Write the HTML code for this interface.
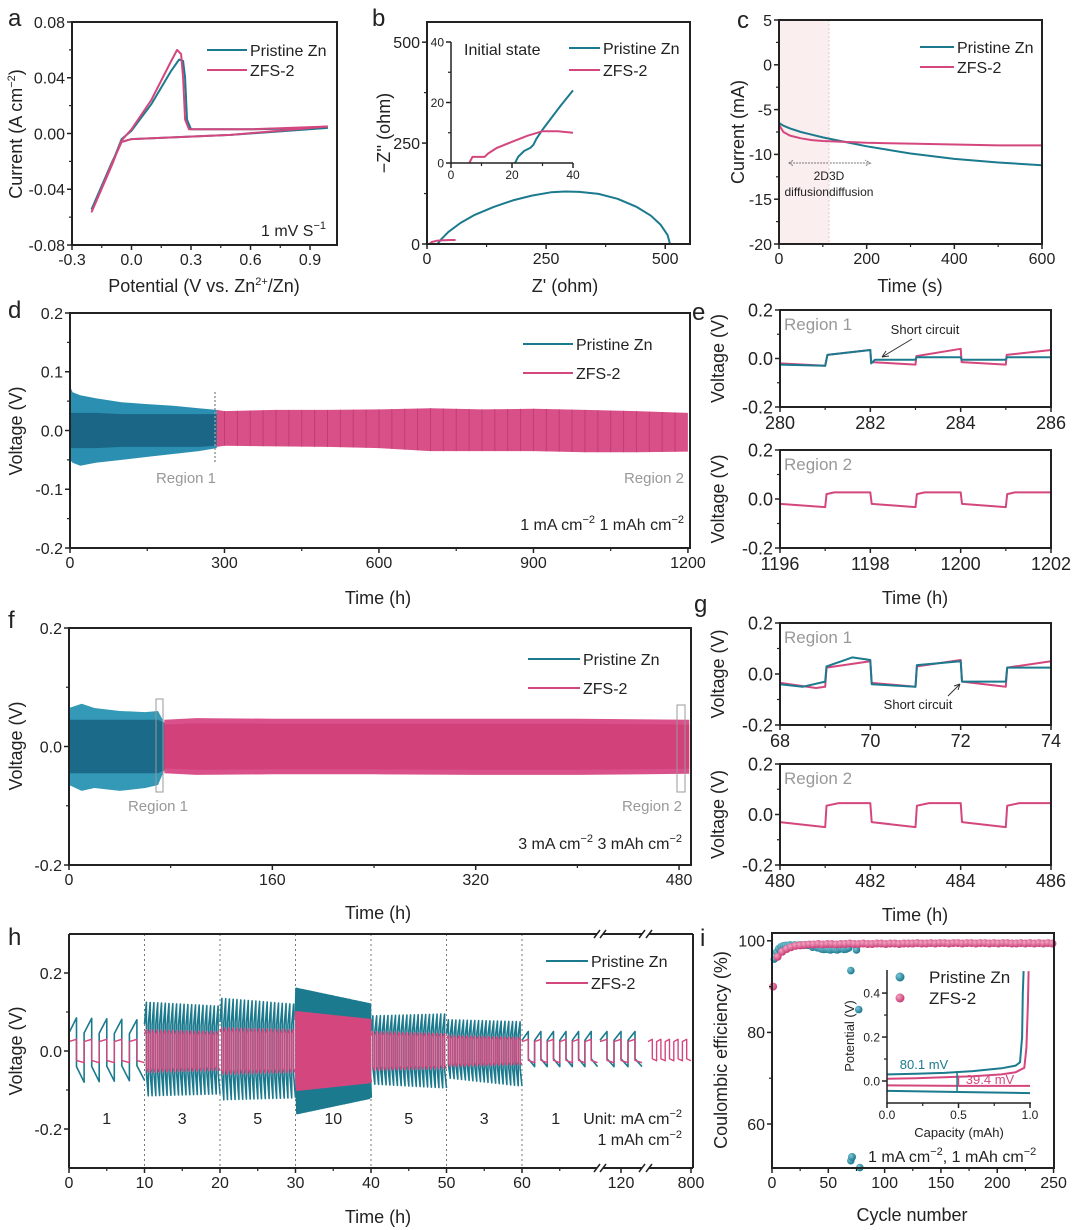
<!DOCTYPE html>
<html><head><meta charset="utf-8"><style>
html,body{margin:0;padding:0;background:#fff;}
svg{display:block;font-family:"Liberation Sans",Arial,sans-serif;}
</style></head><body>
<svg id="fig" width="1080" height="1230" viewBox="0 0 1080 1230" xmlns="http://www.w3.org/2000/svg"></svg>
<script>
// ---------- data ----------
const cvPriV=[0.99,0.5,0.0,-0.05,-0.1,-0.2,-0.1,-0.05,0,0.1,0.2,0.24,0.26,0.27,0.28,0.3,0.6,0.99];
const cvPriI=[0.004,-0.001,-0.004,-0.006,-0.021,-0.054,-0.022,-0.004,0.002,0.021,0.045,0.053,0.052,0.04,0.01,0.003,0.003,0.004];
const cvZfsV=[0.99,0.5,0.0,-0.05,-0.1,-0.2,-0.1,-0.05,0,0.1,0.2,0.23,0.25,0.26,0.27,0.29,0.6,0.99];
const cvZfsI=[0.005,-0.001,-0.004,-0.006,-0.022,-0.056,-0.023,-0.005,0.003,0.024,0.052,0.06,0.057,0.04,0.01,0.003,0.003,0.005];
const eisPriX=[22,30,45,70,100,140,180,220,260,290,320,360,400,440,470,490,505,510];
const eisPriY=[0,12,30,52,72,92,108,120,128,130,129,124,112,92,70,48,22,0];
const eisZfsX=[5,10,20,30,50,60];
const eisZfsY=[0,5,8,9,10,10];
const insPriX=[21,22,24,26,27,28,30,33,36,40];
const insPriY=[0,2,4,5,6,8,11,15,19,24];
const insZfsX=[6,7,9,11,12,15,20,25,30,35,40];
const insZfsY=[0,2,2,2,3,5,7,9,10.5,10.5,10];
const caT=[0,10,25,50,75,100,150,200,250,300,400,500,600];
const caPri=[-6.5,-6.8,-7.1,-7.5,-7.8,-8.1,-8.6,-9.1,-9.5,-9.9,-10.5,-10.9,-11.2];
const caZfs=[-6.7,-7.5,-7.9,-8.2,-8.4,-8.5,-8.6,-8.7,-8.75,-8.8,-8.9,-9.0,-9.0];
const dPriT=[0,5,20,50,100,150,200,250,285];
const dPriUp=[0.075,0.065,0.06,0.055,0.048,0.045,0.042,0.038,0.035];
const dPriLo=[-0.05,-0.055,-0.06,-0.055,-0.05,-0.045,-0.04,-0.035,-0.03];
const dPriInUp=[0.03,0.03,0.03,0.03,0.028,0.028,0.028,0.028,0.028];
const dPriInLo=[-0.03,-0.03,-0.03,-0.03,-0.028,-0.028,-0.028,-0.028,-0.026];
const dZfsT=[285,300,400,500,600,700,800,900,1000,1100,1200];
const dZfsUp=[0.035,0.033,0.035,0.035,0.036,0.038,0.036,0.037,0.035,0.033,0.03];
const dZfsLo=[-0.028,-0.026,-0.027,-0.028,-0.03,-0.035,-0.035,-0.035,-0.037,-0.037,-0.036];
const e1T=[280,281,281.05,282,282.02,282.1,283,283.02,284,284.02,285,285.02,286];
const e1Pri=[-0.025,-0.03,0.015,0.035,-0.02,-0.005,-0.005,0.005,0.005,-0.005,-0.005,0.005,0.005];
const e1ZT=[280,281,281.05,282,282.02,283,283.02,284,284.02,285,285.02,286];
const e1Zfs=[-0.02,-0.03,0.015,0.035,-0.015,-0.025,0.01,0.04,-0.015,-0.025,0.015,0.035];
const e2T=[1196,1197,1197.03,1197.2,1198,1198.03,1199,1199.03,1199.2,1200,1200.03,1201,1201.03,1201.2,1202];
const e2Zfs=[-0.02,-0.033,0.02,0.027,0.027,-0.02,-0.033,0.02,0.027,0.027,-0.02,-0.033,0.02,0.027,0.027];
const fPriT=[0,10,20,40,60,70,75,83];
const fPriUp=[0.065,0.072,0.065,0.06,0.058,0.06,0.04,0.02];
const fPriLo=[-0.065,-0.075,-0.07,-0.075,-0.07,-0.065,-0.04,-0.02];
const fZfsT=[75,100,160,240,320,400,488];
const fZfsUp=[0.045,0.048,0.047,0.047,0.047,0.047,0.045];
const fZfsLo=[-0.045,-0.048,-0.047,-0.047,-0.048,-0.048,-0.046];
const g1T=[68,68.5,69,69.03,69.6,70,70.03,71,71.03,72,72.03,73,73.03,74];
const g1Pri=[-0.04,-0.05,-0.03,0.03,0.065,0.055,-0.04,-0.05,0.035,0.05,-0.03,-0.03,0.025,0.025];
const g1ZT=[68,68.8,69,69.03,70,70.03,71,71.03,72,72.03,73,73.03,74];
const g1Zfs=[-0.035,-0.055,-0.05,0.025,0.05,-0.035,-0.05,0.03,0.055,-0.03,-0.05,0.025,0.05];
const g2T=[480,481,481.03,481.3,482,482.03,483,483.03,483.3,484,484.03,485,485.03,485.3,486];
const g2Zfs=[-0.03,-0.05,0.035,0.045,0.045,-0.03,-0.05,0.035,0.045,0.045,-0.03,-0.05,0.035,0.045,0.045];
const hSegStart=[0,10,20,30,40,50,60,115,790];
const hSegEnd=[10,20,30,40,50,60,70,125,800];
const hCycles=[5,20,20,45,20,20,6,3,5];
const hPriUpStart=[0.085,0.125,0.135,0.16,0.09,0.08,0.05,0.05,null];
const hPriUpEnd=[0.08,0.115,0.12,0.12,0.095,0.075,0.05,0.05,null];
const hPriLoStart=[-0.08,-0.115,-0.125,-0.16,-0.085,-0.07,-0.04,-0.04,null];
const hPriLoEnd=[-0.075,-0.11,-0.12,-0.12,-0.095,-0.09,-0.04,-0.04,null];
const hZfsUp=[0.03,0.055,0.06,0.1,0.05,0.04,0.03,0.03,0.03];
const hZfsUpEnd=[0.03,0.05,0.055,0.08,0.045,0.035,0.03,0.03,0.03];
const hZfsLo=[-0.03,-0.055,-0.06,-0.1,-0.05,-0.04,-0.03,-0.03,-0.025];
const hZfsLoEnd=[-0.03,-0.05,-0.055,-0.08,-0.045,-0.035,-0.03,-0.03,-0.025];
const hRateLabels=["1","3","5","10","5","3","1"];
const iZfsCE=[90,96.5,97.6,98.2,98.6,98.9,99.0,99.1,99.2,99.2,99.3,99.2,99.3,99.3,99.2,99.3,99.3,99.4,99.3,99.3,99.4,99.3,99.3,99.4,99.4,99.3,99.4,99.4,99.3,99.4,99.4,99.4,99.5,99.4,99.4,99.5,99.4,99.5,99.5,99.4,99.5,99.5,99.4,99.5,99.5,99.4,99.5,99.5,99.4,99.5,99.4,99.5,99.5,99.4,99.4,99.5,99.4,99.5,99.4,99.5,99.4,99.5,99.4];
const iPriCycle=[2,4,6,8,10,12,14,16,18,20,22,24,26,28,30,32,34,36,38,40,42,44,46,48,50,52,54,56,58,60,62,64,66,68,75,70,77,70,78];
const iPriCE=[96,97.5,98.3,98.7,98.9,99,99,99.1,99,99.1,99,99.1,99.1,99,99.1,99,99,98.6,98.7,98.5,98.4,98.2,98.1,98.2,98.1,98,98.2,98.1,98,98.2,98.3,98.1,98.2,98.4,98,93.5,85,52,50.5];
const inCapPriUp=[0,0.2,0.4,0.6,0.8,0.9,0.93,0.945,0.95,0.955];
const inVPriUp=[0.03,0.033,0.037,0.045,0.058,0.07,0.085,0.2,0.4,0.5];
const inCapPriLo=[0,0.5,1.0];
const inVPriLo=[-0.045,-0.05,-0.055];
const inCapZfsUp=[0,0.2,0.4,0.6,0.8,0.9,0.96,0.975,0.985,0.99];
const inVZfsUp=[0.01,0.013,0.017,0.022,0.03,0.04,0.06,0.15,0.35,0.5];
const inCapZfsLo=[0,0.5,1.0];
const inVZfsLo=[-0.02,-0.022,-0.022];

// ---------- helpers ----------
const NS='http://www.w3.org/2000/svg';
const svg=document.getElementById('fig');
const TEAL='#1b7a8e', PINK='#d4477e';
function mk(tag,attrs,name,parent){
  const e=document.createElementNS(NS,tag);
  for(const k in attrs) e.setAttribute(k,attrs[k]);
  
  
  (parent||svg).appendChild(e);
  return e;
}
function txt(x,y,html,name,o){
  o=o||{};
  const t=mk('text',{x:x,y:y,'font-size':o.size||16,'text-anchor':o.anchor||'middle',fill:o.fill||'#222'},name);
  if(o.rot) t.setAttribute('transform','rotate(-90 '+x+' '+y+')');
  t.innerHTML=html;
  return t;
}
function axes(p){
  p.sx=p.sx||(v=>p.L+(v-p.xmin)/(p.xmax-p.xmin)*(p.R-p.L));
  p.sy=v=>p.B-(v-p.ymin)/(p.ymax-p.ymin)*(p.B-p.T);
  return p;
}
function frame(p){
  const fs=p.fs||16;
  (p.xticks||[]).forEach((v,i)=>{
    const x=p.sx(v);
    mk('line',{x1:x,x2:x,y1:p.B,y2:p.B+5,stroke:'#222','stroke-width':1.5},p.name+'-x-tick');
    txt(x,p.B+fs+4,p.xlab[i],p.name+'-x-tick-label',{size:fs});
  });
  (p.xminor||[]).forEach(v=>{const x=p.sx(v);mk('line',{x1:x,x2:x,y1:p.B,y2:p.B+3,stroke:'#222','stroke-width':1.2},p.name+'-x-minor-tick');});
  (p.yticks||[]).forEach((v,i)=>{
    const y=p.sy(v);
    mk('line',{x1:p.L-5,x2:p.L,y1:y,y2:y,stroke:'#222','stroke-width':1.5},p.name+'-y-tick');
    txt(p.L-7,y+fs*0.36,p.ylab[i],p.name+'-y-tick-label',{size:fs,anchor:'end'});
  });
  (p.yminor||[]).forEach(v=>{const y=p.sy(v);mk('line',{x1:p.L-3,x2:p.L,y1:y,y2:y,stroke:'#222','stroke-width':1.2},p.name+'-y-minor-tick');});
  if(!p.noBox) mk('rect',{x:p.L,y:p.T,width:p.R-p.L,height:p.B-p.T,fill:'none',stroke:'#222','stroke-width':p.bw||2},p.name+'-frame');
}
function line(p,xs,ys,color,w,name){
  let d='';xs.forEach((x,i)=>{d+=(i?'L':'M')+p.sx(x).toFixed(1)+' '+p.sy(ys[i]).toFixed(1);});
  return mk('path',{d:d,fill:'none',stroke:color,'stroke-width':w||2,'stroke-linejoin':'round'},name);
}
function band(p,xs,up,lo,color,name){
  let d='';xs.forEach((x,i)=>{d+=(i?'L':'M')+p.sx(x).toFixed(1)+' '+p.sy(up[i]).toFixed(1);});
  for(let i=xs.length-1;i>=0;i--) d+='L'+p.sx(xs[i]).toFixed(1)+' '+p.sy(lo[i]).toFixed(1);
  return mk('path',{d:d+'Z',fill:color,stroke:'none'},name);
}
function interp(xs,ys,x){for(let i=1;i<xs.length;i++){if(x<=xs[i]){const f=(x-xs[i-1])/(xs[i]-xs[i-1]);return ys[i-1]+f*(ys[i]-ys[i-1]);}}return ys[ys.length-1];}
function legend(x,y,label,color,name,len,fs){
  mk('line',{x1:x,x2:x+(len||40),y1:y,y2:y,stroke:color,'stroke-width':2},name+'-swatch');
  txt(x+(len||40)+3,y+6,label,name+'-label',{size:fs||16,anchor:'start'});
}
const SUP=(s)=>'<tspan dy="-7" font-size="11">'+s+'</tspan><tspan dy="7"> </tspan>';

// ---------- panel letters ----------
[['a',8,26],['b',372,26],['c',737,28],['d',8,318],['e',692,320],['f',8,628],['g',694,612],['h',8,945],['i',700,946]].forEach(l=>txt(l[1],l[2],l[0],'panel-label-'+l[0],{size:24,anchor:'start'}));

// ---------- panel a ----------
const pa=axes({name:'panel-a',L:72,R:337,T:22,B:245,xmin:-0.3,xmax:1.036,ymin:-0.08,ymax:0.08,
 xticks:[-0.3,0,0.3,0.6,0.9],xlab:['-0.3','0.0','0.3','0.6','0.9'],xminor:[-0.15,0.15,0.45,0.75],
 yticks:[-0.08,-0.04,0,0.04,0.08],ylab:['-0.08','-0.04','0.00','0.04','0.08'],yminor:[-0.06,-0.02,0.02,0.06]});
line(pa,cvPriV,cvPriI,TEAL,2,'cv-pristine-line');
line(pa,cvZfsV,cvZfsI,PINK,2,'cv-zfs-line');
frame(pa);
legend(207,50,'Pristine Zn',TEAL,'legend-a-pristine');
legend(207,70,'ZFS-2',PINK,'legend-a-zfs');
txt(326,236,'1 mV S'+SUP('−1'),'scan-rate-note',{anchor:'end'});
txt(204,292,'Potential (V vs. Zn'+'<tspan dy="-7" font-size="11">2+</tspan><tspan dy="7">/Zn)</tspan>','x-axis-title-a',{size:18});
txt(22,134,'Current (A cm'+'<tspan dy="-7" font-size="11">−2</tspan><tspan dy="7">)</tspan>','y-axis-title-a',{size:18,rot:true});

// ---------- panel b ----------
const pb=axes({name:'panel-b',L:427,R:690,T:22,B:244,xmin:0,xmax:552,ymin:0,ymax:550,
 xticks:[0,250,500],xlab:['0','250','500'],xminor:[125,375],yticks:[0,250,500],ylab:['0','250','500'],yminor:[125,375]});
line(pb,eisPriX,eisPriY,TEAL,2,'eis-pristine-line');
line(pb,eisZfsX,eisZfsY,PINK,2,'eis-zfs-line');
frame(pb);
const pbi=axes({name:'panel-b-inset',L:451,R:573,T:42,B:163,xmin:0,xmax:40,ymin:0,ymax:40,fs:12,noBox:true,
 xticks:[0,20,40],xlab:['0','20','40'],xminor:[10,30],yticks:[0,20,40],ylab:['0','20','40'],yminor:[10,30]});
line(pbi,insPriX,insPriY,TEAL,2,'inset-eis-pristine-line');
line(pbi,insZfsX,insZfsY,PINK,2,'inset-eis-zfs-line');
mk('path',{d:'M451 42 V163 H573',fill:'none',stroke:'#222','stroke-width':1.5},'inset-b-axes');
frame(pbi);
txt(464,55,'Initial state','inset-title',{size:16,anchor:'start'});
legend(569,48,'Pristine Zn',TEAL,'legend-b-pristine',31);
legend(569,70,'ZFS-2',PINK,'legend-b-zfs',31);
txt(565,292,"Z' (ohm)",'x-axis-title-b',{size:18});
txt(390,133,"−Z'' (ohm)",'y-axis-title-b',{size:18,rot:true});

// ---------- panel c ----------
const pc=axes({name:'panel-c',L:779,R:1042,T:20,B:244,xmin:0,xmax:600,ymin:-20,ymax:5,
 xticks:[0,200,400,600],xlab:['0','200','400','600'],xminor:[100,300,500],
 yticks:[-20,-15,-10,-5,0,5],ylab:['-20','-15','-10','-5','0','5'],yminor:[-17.5,-12.5,-7.5,-2.5,2.5]});
mk('rect',{x:pc.sx(0),y:pc.T,width:pc.sx(114)-pc.sx(0),height:pc.B-pc.T,fill:'#fbeeee'},'diffusion-2d-shade');
mk('line',{x1:pc.sx(114),x2:pc.sx(114),y1:pc.T,y2:pc.B,stroke:'#e8c8c8','stroke-width':1,'stroke-dasharray':'2 2'},'diffusion-boundary');
line(pc,caT,caPri,TEAL,2,'ca-pristine-line');
line(pc,caT,caZfs,PINK,2,'ca-zfs-line');
frame(pc);
mk('path',{d:'M'+pc.sx(112)+' 163 H'+pc.sx(22)+' M'+pc.sx(22)+' 163 l5 -3 M'+pc.sx(22)+' 163 l5 3 M'+pc.sx(116)+' 163 H'+pc.sx(208)+' l-5 -3 M'+pc.sx(208)+' 163 l-5 3',stroke:'#777','stroke-width':1,fill:'none','stroke-dasharray':'2 1'},'diffusion-arrows');
txt(pc.sx(114),180,'2D3D','diffusion-dims',{size:12});
txt(pc.sx(114),196,'diffusiondiffusion','diffusion-text',{size:12});
legend(920,47,'Pristine Zn',TEAL,'legend-c-pristine',34);
legend(920,67,'ZFS-2',PINK,'legend-c-zfs',34);
txt(910,292,'Time (s)','x-axis-title-c',{size:18});
txt(744,132,'Current (mA)','y-axis-title-c',{size:18,rot:true});

// ---------- panel d ----------
const pd=axes({name:'panel-d',L:70,R:690,T:313,B:548,xmin:0,xmax:1204,ymin:-0.2,ymax:0.2,
 xticks:[0,300,600,900,1200],xlab:['0','300','600','900','1200'],xminor:[150,450,750,1050],
 yticks:[-0.2,-0.1,0,0.1,0.2],ylab:['-0.2','-0.1','0.0','0.1','0.2'],yminor:[-0.15,-0.05,0.05,0.15]});
band(pd,dPriT,dPriUp,dPriLo,'#2a8fb0','voltage-band-pristine-d');
band(pd,dPriT,dPriInUp,dPriInLo,'#1b6586','voltage-core-pristine-d');
band(pd,dZfsT,dZfsUp,dZfsLo,'#d94f88','voltage-band-zfs-d');
for(let t=300;t<1200;t+=25){const x=pd.sx(t);mk('line',{x1:x,x2:x,y1:pd.sy(interp(dZfsT,dZfsUp,t)),y2:pd.sy(interp(dZfsT,dZfsLo,t)),stroke:'#c23d74','stroke-width':1},'cycle-stripe-d');}
mk('line',{x1:215,x2:215,y1:392,y2:462,stroke:'#999','stroke-width':1.5,'stroke-dasharray':'2 2'},'region-1-marker-d');
frame(pd);
legend(523,344,'Pristine Zn',TEAL,'legend-d-pristine',50);
legend(523,373,'ZFS-2',PINK,'legend-d-zfs',50);
txt(186,483,'Region 1','region-1-label-d',{size:15,fill:'#999'});
txt(684,483,'Region 2','region-2-label-d',{size:15,fill:'#999',anchor:'end'});
txt(684,530,'1 mA cm'+SUP('−2')+'1 mAh cm'+'<tspan dy="-7" font-size="11">−2</tspan>','condition-note-d',{size:16,anchor:'end'});
txt(378,604,'Time (h)','x-axis-title-d',{size:18});
txt(22,431,'Voltage (V)','y-axis-title-d',{size:18,rot:true});

// ---------- panel e ----------
function zoomPanel(name,T,B,xmin,region){
  const p=axes({name:name,L:780,R:1051,T:T,B:B,xmin:xmin,xmax:xmin+6,ymin:-0.2,ymax:0.2,fs:18,
   xticks:[xmin,xmin+2,xmin+4,xmin+6],xlab:[String(xmin),String(xmin+2),String(xmin+4),String(xmin+6)],xminor:[xmin+1,xmin+3,xmin+5],
   yticks:[-0.2,0,0.2],ylab:['-0.2','0.0','0.2'],yminor:[-0.1,0.1]});
  txt(784,T+20,region,name+'-region-label',{size:17,fill:'#999',anchor:'start'});
  txt(724,(T+B)/2,'Voltage (V)',name+'-y-axis-title',{size:18,rot:true});
  return p;
}
const pe1=zoomPanel('panel-e-top',310,407,280,'Region 1');
line(pe1,e1ZT,e1Zfs,PINK,2,'e-top-zfs-line');
line(pe1,e1T,e1Pri,TEAL,2,'e-top-pristine-line');
frame(pe1);
txt(925,334,'Short circuit','short-circuit-label-e',{size:13});
mk('path',{d:'M912 339 L882 357 M882 357 l4 -6 M882 357 l7 -1',stroke:'#333','stroke-width':1,fill:'none'},'short-circuit-arrow-e');
const pe2=zoomPanel('panel-e-bottom',450,548,1196,'Region 2');
line(pe2,e2T,e2Zfs,PINK,2,'e-bottom-zfs-line');
frame(pe2);
txt(915,604,'Time (h)','x-axis-title-e',{size:18});

// ---------- panel f ----------
const pf=axes({name:'panel-f',L:69,R:691,T:628,B:865,xmin:0,xmax:489.4,ymin:-0.2,ymax:0.2,
 xticks:[0,160,320,480],xlab:['0','160','320','480'],xminor:[80,240,400],
 yticks:[-0.2,0,0.2],ylab:['-0.2','0.0','0.2'],yminor:[-0.1,0.1]});
band(pf,fPriT,fPriUp,fPriLo,'#3499b6','voltage-band-pristine-f');
band(pf,fPriT,fPriUp.map(v=>Math.min(v,0.045)),fPriLo.map(v=>Math.max(v,-0.045)),'#1b6a8a','voltage-core-pristine-f');
band(pf,fZfsT,fZfsUp,fZfsLo,'#d9508a','voltage-band-zfs-f');
band(pf,fZfsT,fZfsUp.map(v=>v*0.82),fZfsLo.map(v=>v*0.82),'#d3417b','voltage-core-zfs-f');
mk('rect',{x:156,y:699,width:7,height:93,fill:'none',stroke:'#999','stroke-width':1},'region-1-box-f');
mk('rect',{x:677,y:705,width:8,height:87,fill:'none',stroke:'#999','stroke-width':1},'region-2-box-f');
frame(pf);
legend(528,659,'Pristine Zn',TEAL,'legend-f-pristine',52);
legend(528,688,'ZFS-2',PINK,'legend-f-zfs',52);
txt(158,811,'Region 1','region-1-label-f',{size:15,fill:'#999'});
txt(682,811,'Region 2','region-2-label-f',{size:15,fill:'#999',anchor:'end'});
txt(682,849,'3 mA cm'+SUP('−2')+'3 mAh cm'+'<tspan dy="-7" font-size="11">−2</tspan>','condition-note-f',{size:16,anchor:'end'});
txt(378,919,'Time (h)','x-axis-title-f',{size:18});
txt(22,746,'Voltage (V)','y-axis-title-f',{size:18,rot:true});

// ---------- panel g ----------
const pg1=zoomPanel('panel-g-top',623,725,68,'Region 1');
line(pg1,g1ZT,g1Zfs,PINK,2,'g-top-zfs-line');
line(pg1,g1T,g1Pri,TEAL,2,'g-top-pristine-line');
frame(pg1);
txt(918,709,'Short circuit','short-circuit-label-g',{size:13});
mk('path',{d:'M948 696 L960 684 M960 684 l-6 2 M960 684 l-2 6',stroke:'#333','stroke-width':1,fill:'none'},'short-circuit-arrow-g');
const pg2=zoomPanel('panel-g-bottom',764,865,480,'Region 2');
line(pg2,g2T,g2Zfs,PINK,2,'g-bottom-zfs-line');
frame(pg2);
txt(915,921,'Time (h)','x-axis-title-g',{size:18});

// ---------- panel h ----------
function hx(t){ if(t<=70) return 69+t*7.55; if(t<=125) return 600+(t-115)*4.2; return 648+(t-790)*4.3; }
const ph=axes({name:'panel-h',L:69,R:693,T:934,B:1168,sx:hx,ymin:-0.3,ymax:0.3,
 xticks:[0,10,20,30,40,50,60,120,800],xlab:['0','10','20','30','40','50','60','120','800'],xminor:[5,15,25,35,45,55,65],
 yticks:[-0.2,0,0.2],ylab:['-0.2','0.0','0.2'],yminor:[-0.1,0.1],noBox:true});
for(let t=10;t<=60;t+=10){const x=hx(t);mk('line',{x1:x,x2:x,y1:ph.T,y2:ph.B,stroke:'#777','stroke-width':1,'stroke-dasharray':'2 3'},'rate-divider');}
function wave(i,up0,up1,lo0,lo1,color,w,name,k1,k2){
  const n=hCycles[i],t0=hSegStart[i],dt=(hSegEnd[i]-hSegStart[i])/n;const xs=[],ys=[];
  for(let k=0;k<n;k++){const f=n>1?k/(n-1):0;const u=up0+(up1-up0)*f,l=lo0+(lo1-lo0)*f,t=t0+k*dt;
    xs.push(t,t+0.5*dt,t+0.5*dt,t+dt);ys.push(u*k1,u,l*k2,l);}
  return line(ph,xs,ys,color,w,name);
}
hSegStart.forEach((s,i)=>{ if(hPriUpStart[i]!==null) wave(i,hPriUpStart[i],hPriUpEnd[i],hPriLoStart[i],hPriLoEnd[i],TEAL,hCycles[i]>30?2.2:1.6,'rate-pristine-line',0.55,0.5); });
hSegStart.forEach((s,i)=>{ wave(i,hZfsUp[i],hZfsUpEnd[i],hZfsLo[i],hZfsLoEnd[i],PINK,hCycles[i]>30?2.2:1.4,'rate-zfs-line',0.8,0.8); });
[[69,597],[603,642],[649,693]].forEach(s=>{
  mk('line',{x1:s[0],x2:s[1],y1:ph.T,y2:ph.T,stroke:'#222','stroke-width':2},'axis-top-h');
  mk('line',{x1:s[0],x2:s[1],y1:ph.B,y2:ph.B,stroke:'#222','stroke-width':2},'axis-bottom-h');
});
[597,603,642,649].forEach(x=>{[ph.T,ph.B].forEach(y=>mk('line',{x1:x-3,x2:x+3,y1:y+4,y2:y-4,stroke:'#222','stroke-width':1.5},'axis-break-mark'));});
mk('line',{x1:69,x2:69,y1:ph.T,y2:ph.B,stroke:'#222','stroke-width':2},'axis-left-h');
mk('line',{x1:693,x2:693,y1:ph.T,y2:ph.B,stroke:'#222','stroke-width':2},'axis-right-h');
frame(ph);
[5,15,25,35,45,55,65].forEach((t,i)=>txt(hx(t)+(i===6?-4:0),1124,hRateLabels[i],'rate-label',{size:16}));
txt(682,1124,'Unit: mA cm'+'<tspan dy="-7" font-size="11">−2</tspan>','unit-note-h',{size:16,anchor:'end'});
txt(682,1145,'1 mAh cm'+'<tspan dy="-7" font-size="11">−2</tspan>','capacity-note-h',{size:16,anchor:'end'});
legend(546,961,'Pristine Zn',TEAL,'legend-h-pristine',42);
legend(546,983,'ZFS-2',PINK,'legend-h-zfs',42);
txt(378,1223,'Time (h)','x-axis-title-h',{size:18});
txt(22,1051,'Voltage (V)','y-axis-title-h',{size:18,rot:true});

// ---------- panel i ----------
const defs=mk('defs',{},'marker-gradients');
[['gTeal','#7fc6da','#1b7a8e'],['gPink','#f4a6c4','#c93c74']].forEach(g=>{
  const rg=mk('radialGradient',{id:g[0],cx:'35%',cy:'35%',r:'65%'},'gradient',defs);
  mk('stop',{offset:'0%','stop-color':g[1]},'gradient-stop',rg);
  mk('stop',{offset:'100%','stop-color':g[2]},'gradient-stop',rg);
});
const pi=axes({name:'panel-i',L:772,R:1054,T:933,B:1168,xmin:0,xmax:250.4,ymin:50.4,ymax:101.7,
 xticks:[0,50,100,150,200,250],xlab:['0','50','100','150','200','250'],xminor:[25,75,125,175,225],
 yticks:[60,80,100],ylab:['60','80','100'],yminor:[70,90]});
iPriCycle.forEach((c,i)=>mk('circle',{cx:pi.sx(c),cy:pi.sy(iPriCE[i]),r:3.8,fill:'url(#gTeal)'},'ce-point-pristine'));
iZfsCE.forEach((v,i)=>mk('circle',{cx:pi.sx(1+4*i),cy:pi.sy(v),r:4,fill:'url(#gPink)'},'ce-point-zfs'));
frame(pi);
const pin=axes({name:'panel-i-inset',L:887,R:1031,T:970,B:1103,xmin:0,xmax:1.007,ymin:-0.1,ymax:0.505,fs:12,noBox:true,
 xticks:[0,0.5,1.0],xlab:['0.0','0.5','1.0'],xminor:[0.25,0.75],yticks:[0,0.2,0.4],ylab:['0.0','0.2','0.4'],yminor:[0.1,0.3]});
line(pin,inCapPriUp,inVPriUp,TEAL,2,'inset-pristine-charge');
line(pin,inCapPriLo,inVPriLo,TEAL,2,'inset-pristine-discharge');
line(pin,inCapZfsUp,inVZfsUp,PINK,2,'inset-zfs-charge');
line(pin,inCapZfsLo,inVZfsLo,PINK,2,'inset-zfs-discharge');
mk('line',{x1:pin.sx(0.49),x2:pin.sx(0.49),y1:pin.sy(0.045),y2:pin.sy(-0.05),stroke:TEAL,'stroke-width':1.5},'overpotential-marker-pristine');
mk('line',{x1:pin.sx(0.5),x2:pin.sx(0.5),y1:pin.sy(0.025),y2:pin.sy(-0.02),stroke:PINK,'stroke-width':1.5},'overpotential-marker-zfs');
mk('path',{d:'M887 970 V1103 H1031',fill:'none',stroke:'#222','stroke-width':1.5},'inset-i-axes');
frame(pin);
txt(924,1069,'80.1 mV','overpotential-label-pristine',{size:13,fill:TEAL});
txt(990,1084,'39.4 mV','overpotential-label-zfs',{size:13,fill:PINK});
txt(959,1137,'Capacity (mAh)','inset-x-title',{size:13});
txt(854,1036,'Potential (V)','inset-y-title',{size:13,rot:true});
mk('circle',{cx:900,cy:977,r:4.5,fill:'url(#gTeal)'},'legend-i-pristine-marker');
txt(929,983,'Pristine Zn','legend-i-pristine-label',{size:17,anchor:'start'});
mk('circle',{cx:900,cy:998,r:4.5,fill:'url(#gPink)'},'legend-i-zfs-marker');
txt(929,1004,'ZFS-2','legend-i-zfs-label',{size:17,anchor:'start'});
mk('circle',{cx:852,cy:1157,r:4,fill:'url(#gTeal)'},'condition-marker-i');
txt(868,1162,'1 mA cm<tspan dy="-7" font-size="11">−2</tspan><tspan dy="7">, </tspan>1 mAh cm<tspan dy="-7" font-size="11">−2</tspan>','condition-note-i',{size:16,anchor:'start'});
txt(912,1221,'Cycle number','x-axis-title-i',{size:18});
txt(727,1050,'Coulombic efficiency (%)','y-axis-title-i',{size:18,rot:true});
</script>
</body></html>
